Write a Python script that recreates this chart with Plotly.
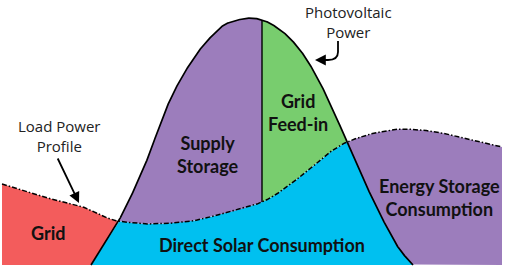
import numpy as np
import plotly.graph_objects as go

# Load power profile (x position, power)
load_x = [2, 40, 80, 118, 152, 185, 218, 262, 300, 333, 347, 380, 403, 430, 463, 502]
load_p = [81, 69, 59, 44, 41, 43, 50, 63, 88, 115, 123, 133, 136, 134, 127, 118]

# Photovoltaic power curve
pv_x = [91, 118, 147, 157, 170, 188, 208, 228, 252, 262, 283, 300, 317, 333, 347, 367, 383, 400, 413]
pv_p = [0, 43, 105, 132, 165, 198, 225, 242, 247, 245, 233, 215, 188, 155, 123, 78, 45, 15, 0]

split_x = 262  # boundary between "Supply Storage" and "Grid Feed-in"

labels_bold = [
    ("Grid", 48, 32),
    ("Direct Solar Consumption", 262, 20),
    ("Supply<br>Storage", 208, 111),
    ("Grid<br>Feed-in", 298, 153),
    ("Energy Storage<br>Consumption", 439, 68),
]

RED = "rgb(243,92,92)"
PURPLE = "rgb(156,125,188)"
GREEN = "rgb(120,205,110)"
CYAN = "rgb(0,192,240)"


def pchip(xk, yk, x):
    xk = np.asarray(xk, float)
    yk = np.asarray(yk, float)
    h = np.diff(xk)
    d = np.diff(yk) / h
    n = len(xk)
    m = np.zeros(n)
    for k in range(1, n - 1):
        if d[k - 1] * d[k] > 0:
            w1 = 2 * h[k] + h[k - 1]
            w2 = h[k] + 2 * h[k - 1]
            m[k] = (w1 + w2) / (w1 / d[k - 1] + w2 / d[k])
    m[0] = d[0]
    m[-1] = d[-1]
    x = np.asarray(x, float)
    idx = np.clip(np.searchsorted(xk, x) - 1, 0, n - 2)
    t = (x - xk[idx]) / h[idx]
    h00 = 2 * t**3 - 3 * t**2 + 1
    h10 = t**3 - 2 * t**2 + t
    h01 = -2 * t**3 + 3 * t**2
    h11 = t**3 - t**2
    return h00 * yk[idx] + h10 * h[idx] * m[idx] + h01 * yk[idx + 1] + h11 * h[idx] * m[idx + 1]


xs = np.linspace(load_x[0], load_x[-1], 2001)
L = pchip(load_x, load_p, xs)
P = np.where((xs >= pv_x[0]) & (xs <= pv_x[-1]), pchip(pv_x, pv_p, np.clip(xs, pv_x[0], pv_x[-1])), 0.0)
P = np.maximum(P, 0)

diff = P - L
cross = np.where(np.diff(np.sign(diff)) != 0)[0]
iL, iR = cross[0] + 1, cross[-1] + 1
iS = int(np.argmin(np.abs(xs - split_x)))

fig = go.Figure()


def poly(xu, yu, xl, yl, color):
    px = np.concatenate([xu, xl[::-1]])
    py = np.concatenate([yu, yl[::-1]])
    fig.add_trace(go.Scatter(x=px, y=py, fill="toself", fillcolor=color, mode="lines",
                             line=dict(width=0, color=color), hoverinfo="skip", showlegend=False))


# Grid (red)
sl = slice(0, iL + 1)
poly(xs[sl], L[sl], xs[sl], P[sl], RED)
# Direct solar consumption (cyan)
pv_mask = (xs >= pv_x[0]) & (xs <= pv_x[-1])
poly(xs[pv_mask], np.minimum(L, P)[pv_mask], xs[pv_mask], np.zeros(pv_mask.sum()), CYAN)
# Supply storage (purple)
sl = slice(iL, iS + 1)
poly(xs[sl], P[sl], xs[sl], L[sl], PURPLE)
# Grid feed-in (green)
sl = slice(iS, iR + 1)
poly(xs[sl], P[sl], xs[sl], L[sl], GREEN)
# Energy storage consumption (purple)
sl = slice(iR, len(xs))
poly(xs[sl], L[sl], xs[sl], P[sl], PURPLE)

# PV curve (solid)
fig.add_trace(go.Scatter(x=xs[pv_mask], y=P[pv_mask], mode="lines",
                         line=dict(color="black", width=1.7), hoverinfo="skip", showlegend=False))
# split line
fig.add_trace(go.Scatter(x=[xs[iS], xs[iS]], y=[L[iS], P[iS]], mode="lines",
                         line=dict(color="black", width=1.4), hoverinfo="skip", showlegend=False))
# Load curve (dash-dot)
fig.add_trace(go.Scatter(x=xs, y=L, mode="lines",
                         line=dict(color="black", width=1.5, dash="5px,2px,1.5px,2px"),
                         hoverinfo="skip", showlegend=False))

annotations = []
for text, x, y in labels_bold:
    annotations.append(dict(x=x, y=y, text="<b>" + text + "</b>", showarrow=False,
                            font=dict(family="Lato", size=18, color="#111111"),
                            xanchor="center", yanchor="middle"))

annotations.append(dict(x=348, y=243, text="Photovoltaic<br>Power", showarrow=False,
                        font=dict(family="Open Sans", size=15, color="#222222"),
                        xanchor="center", yanchor="middle"))
annotations.append(dict(x=59, y=129, text="Load Power<br>Profile", showarrow=False,
                        font=dict(family="Open Sans", size=15, color="#222222"),
                        xanchor="center", yanchor="middle"))
# arrows
annotations.append(dict(x=79, y=62, ax=57, ay=108, xref="x", yref="y", axref="x", ayref="y",
                        text="", showarrow=True, arrowhead=2, arrowsize=1.2, arrowwidth=1.8,
                        arrowcolor="black"))
annotations.append(dict(x=315, y=205, ax=325, ay=205, xref="x", yref="y", axref="x", ayref="y",
                        text="", showarrow=True, arrowhead=2, arrowsize=1.2, arrowwidth=1.8,
                        arrowcolor="black"))

fig.add_shape(type="path", path="M 338,224 L 338,213 Q 338,205 328,205 L 322,205",
              line=dict(color="black", width=1.8), xref="x", yref="y")

fig.update_layout(
    width=505, height=268,
    margin=dict(l=0, r=0, t=0, b=0),
    paper_bgcolor="white", plot_bgcolor="white",
    xaxis=dict(range=[0, 505], visible=False, fixedrange=True),
    yaxis=dict(range=[-3, 265], visible=False, fixedrange=True),
    annotations=annotations,
    showlegend=False,
)

fig.write_html("out.html", config={"displayModeBar": False},
               post_script="document.body.style.margin='0';")
